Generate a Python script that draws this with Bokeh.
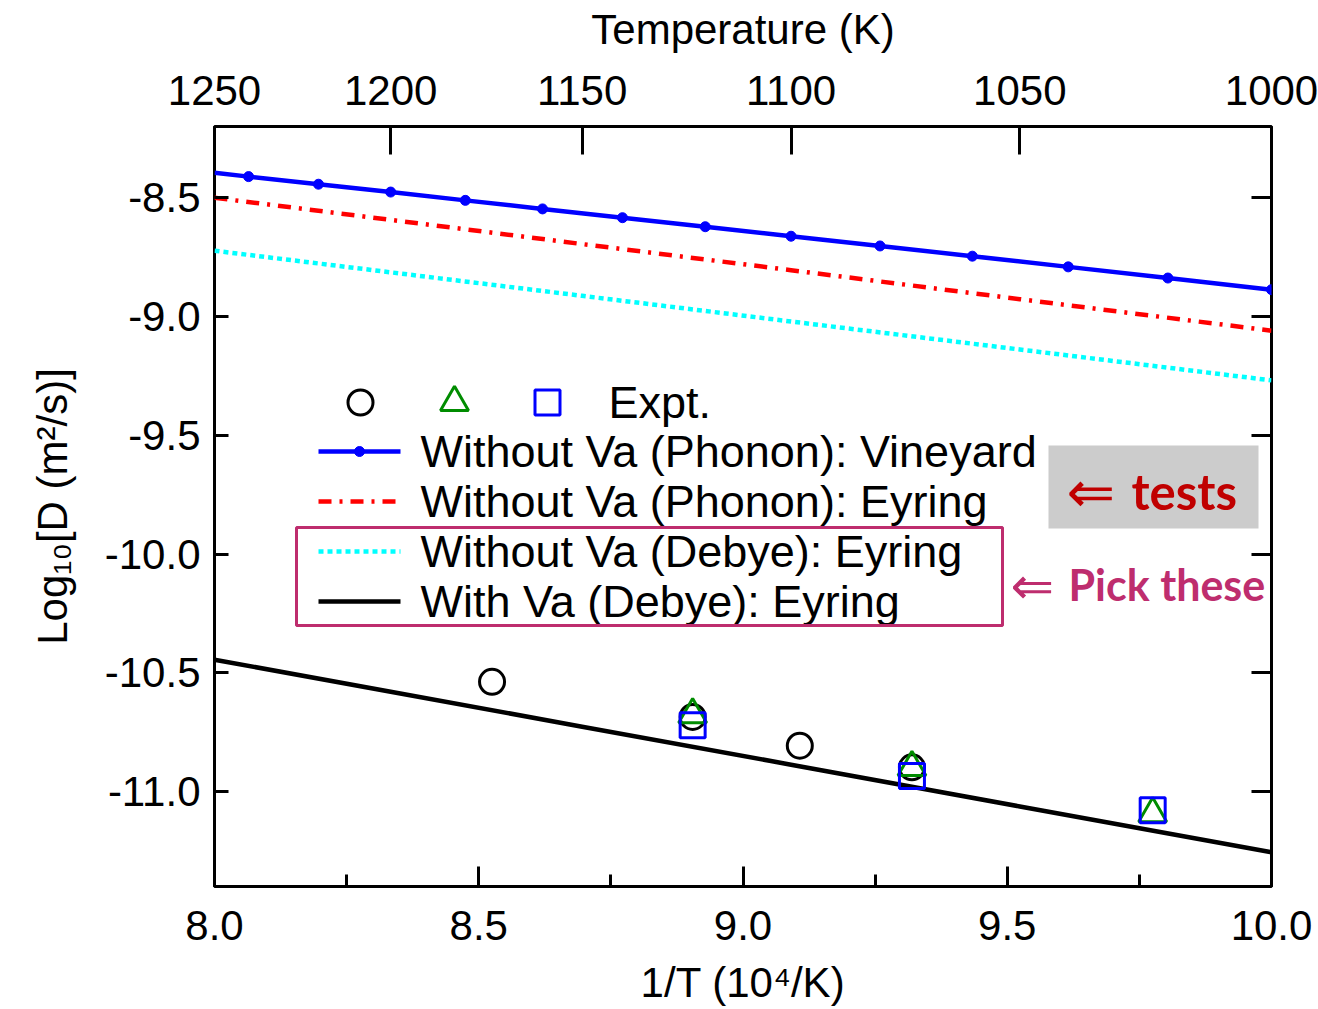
from bokeh.plotting import figure
from bokeh.models import (Range1d, LinearAxis, SingleIntervalTicker, FixedTicker,
                          CustomJSTickFormatter, Label, BoxAnnotation)
from bokeh.embed import file_html
from bokeh.resources import INLINE

# ---- data: temperature (K) and log10 of diffusivity D (m^2/s) ----
vineyard_T = [1250, 1240, 1220, 1200, 1180, 1160, 1140, 1120, 1100, 1080, 1060, 1040, 1020, 1000]
vineyard_logD = [-8.395, -8.411, -8.443, -8.476, -8.511, -8.547, -8.584, -8.622, -8.662,
                 -8.703, -8.746, -8.791, -8.838, -8.887]

eyring_T = [1250, 1200, 1150, 1100, 1050, 1000]
phonon_eyring_logD = [-8.500, -8.593, -8.695, -8.805, -8.927, -9.060]
debye_eyring_logD = [-8.723, -8.814, -8.913, -9.021, -9.139, -9.269]
va_debye_eyring_logD = [-10.445, -10.580, -10.727, -10.887, -11.063, -11.256]

expt_circle_T = [1173, 1123, 1098, 1073]
expt_circle_logD = [-10.538, -10.686, -10.807, -10.898]
expt_triangle_T = [1123, 1073, 1023]
expt_triangle_logD = [-10.676, -10.899, -11.093]
expt_square_T = [1123, 1073, 1023]
expt_square_logD = [-10.721, -10.935, -11.079]

top_axis_T = [1250, 1200, 1150, 1100, 1050, 1000]


def inv_T(temps):
    """1/T in units of 1e-4 per kelvin."""
    return [1e4 / t for t in temps]


# ---- frame geometry ----
X_LO, X_HI = 8.0, 10.0
Y_LO, Y_HI = -11.4, -8.2
FRAME_L, FRAME_R, FRAME_T, FRAME_B = 214, 1271, 126, 886
W, H = 1318, 1009


def sx(px):
    return X_LO + (px - FRAME_L) * (X_HI - X_LO) / (FRAME_R - FRAME_L)


def sy(py):
    return Y_HI - (py - FRAME_T) * (Y_HI - Y_LO) / (FRAME_B - FRAME_T)


FONT = "Liberation Sans"
LW = 4.5
one_decimal = CustomJSTickFormatter(code="return tick.toFixed(1);")

p = figure(width=W, height=H, x_range=Range1d(X_LO, X_HI), y_range=Range1d(Y_LO, Y_HI),
           output_backend="svg", toolbar_location=None,
           min_border_left=FRAME_L, min_border_right=W - FRAME_R,
           min_border_top=FRAME_T, min_border_bottom=H - FRAME_B)
p.xgrid.visible = False
p.ygrid.visible = False
p.outline_line_color = "black"
p.outline_line_width = 3
p.background_fill_color = "white"
p.border_fill_color = "white"


def style_axis(ax, tick_in, minor_in=0):
    ax.axis_line_color = None
    ax.major_tick_in = tick_in
    ax.major_tick_out = 0
    ax.minor_tick_in = minor_in
    ax.minor_tick_out = 0
    ax.major_tick_line_width = 3
    ax.minor_tick_line_width = 3
    ax.major_tick_line_color = "black"
    ax.minor_tick_line_color = "black"
    ax.major_label_text_font = FONT
    ax.major_label_text_font_size = "42px"
    ax.major_label_text_color = "black"
    ax.axis_label_text_font = FONT
    ax.axis_label_text_font_size = "42px"
    ax.axis_label_text_font_style = "normal"
    ax.axis_label_text_color = "black"


# bottom axis: 1/T
xb = p.xaxis[0]
xb.ticker = SingleIntervalTicker(interval=0.5, num_minor_ticks=2)
xb.formatter = one_decimal
style_axis(xb, 20, 12)
xb.axis_label = "1/T (10\u2074/K)"
xb.major_label_standoff = 24
xb.axis_label_standoff = 16

# left axis: log10 D
yl = p.yaxis[0]
yl.ticker = SingleIntervalTicker(interval=0.5, num_minor_ticks=0)
yl.formatter = one_decimal
style_axis(yl, 14)
yl.axis_label = "Log\u2081\u2080[D (m\u00b2/s)]"
yl.major_label_standoff = 14
yl.axis_label_standoff = 26

# top axis: temperature
xt = LinearAxis(ticker=FixedTicker(ticks=inv_T(top_axis_T), minor_ticks=[]),
                formatter=CustomJSTickFormatter(code="return (1e4 / tick).toFixed(0);"))
style_axis(xt, 28)
xt.axis_label = "Temperature (K)"
xt.major_label_standoff = 22
xt.axis_label_standoff = 20
p.add_layout(xt, "above")

# right axis: ticks only
yr = LinearAxis(ticker=SingleIntervalTicker(interval=0.5, num_minor_ticks=0),
                formatter=CustomJSTickFormatter(code="return '';"))
style_axis(yr, 20)
yr.major_label_standoff = 0
p.add_layout(yr, "right")

# ---- curves ----
p.line(inv_T(vineyard_T), vineyard_logD, line_color="#0000FF", line_width=LW)
p.scatter(inv_T(vineyard_T[1:]), vineyard_logD[1:], marker="circle", size=10,
          fill_color="#0000FF", line_color="#0000FF")
p.line(inv_T(eyring_T), phonon_eyring_logD, line_color="#FF0000", line_width=LW,
       line_dash="13 8 3 8")
p.line(inv_T(eyring_T), debye_eyring_logD, line_color="#00FFFF", line_width=LW,
       line_dash="5 4")
p.line(inv_T(eyring_T), va_debye_eyring_logD, line_color="black", line_width=LW)

# ---- experimental points ----
circle_kw = dict(marker="circle", size=25, fill_color=None, line_color="black", line_width=3)
tri_kw = dict(marker="triangle", size=28, fill_color=None, line_color="#008C00", line_width=3)
sq_kw = dict(marker="square", size=25, fill_color=None, line_color="#0000FF", line_width=3)
p.scatter(inv_T(expt_circle_T), expt_circle_logD, **circle_kw)
p.scatter(inv_T(expt_triangle_T), expt_triangle_logD, **tri_kw)
p.scatter(inv_T(expt_square_T), expt_square_logD, **sq_kw)

# ---- legend ----
row_y = [402, 451, 501, 551, 601]
p.scatter([sx(360)], [sy(row_y[0])], **circle_kw)
p.scatter([sx(454)], [sy(row_y[0])], **tri_kw)
p.scatter([sx(547)], [sy(row_y[0])], **sq_kw)

swatch_x = [sx(318), sx(400)]
p.line(swatch_x, [sy(row_y[1])] * 2, line_color="#0000FF", line_width=LW)
p.scatter([sx(359)], [sy(row_y[1])], marker="circle", size=10,
          fill_color="#0000FF", line_color="#0000FF")
p.line(swatch_x, [sy(row_y[2])] * 2, line_color="#FF0000", line_width=LW, line_dash="13 8 3 8")
p.line(swatch_x, [sy(row_y[3])] * 2, line_color="#00FFFF", line_width=LW, line_dash="5 4")
p.line(swatch_x, [sy(row_y[4])] * 2, line_color="black", line_width=LW)

legend_labels = ["Expt.",
                 "Without Va (Phonon): Vineyard",
                 "Without Va (Phonon): Eyring",
                 "Without Va (Debye): Eyring",
                 "With Va (Debye): Eyring"]
label_x = [608, 420, 420, 420, 420]
for lx, ly, txt in zip(label_x, row_y, legend_labels):
    p.add_layout(Label(x=sx(lx), y=sy(ly), text=txt, text_font=FONT, text_font_size="45px",
                       text_baseline="middle", text_align="left", text_color="black"))

# highlight box around the Debye curves
p.add_layout(BoxAnnotation(left=sx(296), right=sx(1002), top=sy(527), bottom=sy(625),
                           fill_alpha=0, line_color="#BE2D6E", line_alpha=1, line_width=3))

# grey "tests" tag
p.add_layout(BoxAnnotation(left=sx(1048), right=sx(1258), top=sy(445), bottom=sy(528),
                           fill_color="#CCCCCC", fill_alpha=1, line_color=None))
p.add_layout(Label(x=sx(1066), y=sy(491), text="\u21d0", text_font="DejaVu Sans",
                   text_font_size="58px", text_baseline="middle", text_color="#C00000"))
p.add_layout(Label(x=sx(1131), y=sy(490), text="tests", text_font="Lato",
                   text_font_size="49px", text_font_style="bold", text_baseline="middle",
                   text_color="#C00000"))

p.add_layout(Label(x=sx(1010), y=sy(585), text="\u21d0", text_font="DejaVu Sans",
                   text_font_size="52px", text_baseline="middle", text_color="#BE2D6E"))
p.add_layout(Label(x=sx(1068), y=sy(584), text="Pick these", text_font="Lato",
                   text_font_size="43px", text_font_style="bold", text_baseline="middle",
                   text_color="#BE2D6E"))

open("out.html", "w").write(file_html(p, INLINE))
